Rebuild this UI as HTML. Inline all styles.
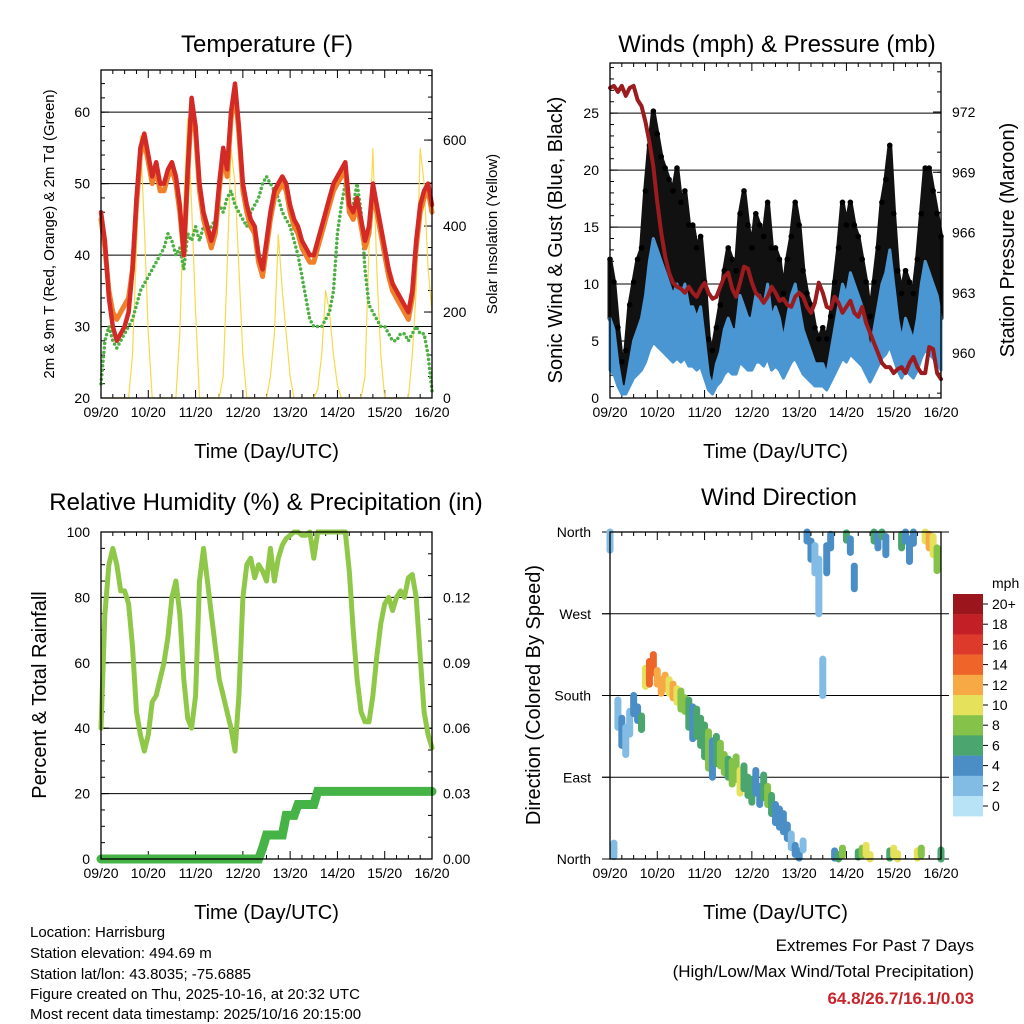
<!DOCTYPE html>
<html><head><meta charset="utf-8"><style>
html,body{margin:0;padding:0;background:#fff;}
svg{display:block;font-family:"Liberation Sans",sans-serif;}
</style></head><body>
<svg id="c" width="1024" height="1024" viewBox="0 0 1024 1024" xmlns="http://www.w3.org/2000/svg"></svg>
<script>
// ---- data (2-hour steps, hour 0 = 09/20 UTC) ----
const dayLabels = ["09/20","10/20","11/20","12/20","13/20","14/20","15/20","16/20"];
const tempRed = [46,42,34,30,28,29,30,32,38,48,55,57,54,51,53,50,50,52,53,51,47,40,52,62,58,50,46,44,42,44,50,55,52,60,64,58,50,47,45,44,40,38,42,46,49,50,51,50,47,45,44,42,41,40,40,42,44,46,48,50,51,52,53,47,46,48,45,42,44,50,47,44,41,38,36,35,34,33,32,35,42,47,49,50,47];
const tempOrange = [45,41,35,32,31,32,33,34,38,47,54,56,53,50,52,49,49,51,52,50,46,40,51,61,57,49,45,43,41,43,49,54,51,59,63,57,49,46,44,43,39,37,41,45,48,49,50,49,46,44,43,41,40,39,39,41,43,45,47,49,50,51,52,46,45,47,44,41,43,49,46,43,40,37,35,34,33,32,31,34,41,46,48,49,46];
const dewGreen = [22,28,30,28,27,28,29,30,31,33,35,36,37,38,39,40,41,43,42,40,41,38,43,42,44,42,44,43,44,45,47,46,48,49,47,46,45,44,46,47,48,50,51,50,49,48,46,45,44,42,40,37,34,31,30,30,30,31,32,35,43,47,50,46,47,50,46,38,33,32,31,30,30,29,28,28,29,29,28,29,30,29,29,26,21];
const solar = [0,0,0,0,0,0,0,0,100,350,610,400,150,0,0,0,0,0,0,0,150,450,650,450,200,0,0,0,0,0,0,50,300,580,500,300,100,0,0,0,0,0,0,50,150,380,250,150,50,0,0,0,0,0,0,20,100,250,200,100,30,0,0,0,0,0,0,50,350,580,300,100,0,0,0,0,0,0,0,100,250,580,500,300,200];
const pressure = [973.2,973.3,973.0,973.3,972.8,973.2,973.3,972.6,972.3,971.5,970.5,969.3,967.5,966.0,964.8,964.0,963.5,963.3,963.2,963.0,963.3,963.0,962.8,963.2,963.5,963.0,962.7,962.8,963.3,963.8,964.0,963.2,962.8,963.5,964.3,964.2,963.5,963.0,962.8,962.5,962.8,963.3,963.0,962.6,962.7,962.4,962.3,962.8,963.0,962.8,962.3,962.0,962.5,963.5,963.0,962.3,962.2,962.8,962.5,962.0,962.3,962.6,962.0,961.8,962.3,961.5,961.0,960.5,960.0,959.5,959.3,959.3,959.0,959.2,959.3,959.0,959.5,959.8,959.3,959.0,959.0,960.3,960.2,959.0,958.7];
const windHi = [7,6,3,1,1,3,5,6,7,9,12,14,13,12,11,10,9,10,9,10,8,8,7,8,5,2,1,3,4,6,7,6,6,9,8,7,7,9,9,8,10,7,8,7,5,7,9,10,8,6,5,4,3,3,3,2,4,6,8,10,9,11,10,9,8,6,4,6,8,10,11,13,10,7,5,7,6,5,7,10,12,11,10,9,7];
const gustHi = [12,10,6,3,4,8,10,12,13,18,22,25,23,21,20,19,18,20,17,18,15,15,13,14,10,5,4,6,8,11,13,12,11,16,18,15,13,16,15,14,17,13,13,12,9,12,14,17,15,11,9,8,6,5,6,5,7,10,13,17,15,17,15,14,12,10,7,10,13,17,19,22,16,11,9,11,10,9,12,16,20,20,18,16,14];
const rh = [40,75,90,95,90,82,82,78,65,45,38,33,38,48,50,55,60,68,80,85,75,55,43,40,50,85,95,85,75,65,55,50,45,40,33,50,80,90,92,86,90,88,85,95,85,92,96,98,99,100,100,99,99,100,92,100,100,100,100,100,100,100,100,88,70,55,45,42,42,50,62,72,78,80,76,80,82,80,86,87,80,62,45,38,34];
const precip = [0,0,0,0,0,0,0,0,0,0,0,0,0,0,0,0,0,0,0,0,0,0,0,0,0,0,0,0,0,0,0,0,0,0,0,0,0,0,0,0,0,0.005,0.011,0.011,0.011,0.011,0.011,0.02,0.02,0.02,0.025,0.025,0.025,0.025,0.025,0.031,0.031,0.031,0.031,0.031,0.031,0.031,0.031,0.031,0.031,0.031,0.031,0.031,0.031,0.031,0.031,0.031,0.031,0.031,0.031,0.031,0.031,0.031,0.031,0.031,0.031,0.031,0.031,0.031,0.031];
const windDir = [350,10,160,140,130,150,170,160,150,200,205,215,200,190,195,190,185,180,175,170,160,150,150,140,130,120,110,120,115,105,100,95,100,85,90,80,75,85,70,80,70,60,50,45,40,30,20,10,5,15,355,340,330,300,200,330,350,5,2,8,355,345,310,5,8,10,2,355,350,360,345,5,8,3,350,355,340,355,5,8,355,350,345,330,5];
const dirSpread = [20,15,30,30,30,25,20,15,15,20,25,20,15,15,15,15,15,15,20,15,30,35,30,30,35,40,40,30,25,20,20,25,25,25,25,20,25,25,20,25,20,20,20,20,20,15,15,10,8,10,10,20,30,60,40,30,15,8,6,8,8,15,25,6,8,10,6,10,15,10,20,8,8,6,15,10,25,15,8,8,10,15,20,25,10];
const windSpd = [2,1,2,3,1,2,3,4,5,10,13,14,12,12,11,10,11,9,8,7,5,4,6,5,6,7,4,6,7,8,6,7,8,9,6,5,6,4,3,6,8,6,4,3,4,3,2,4,3,2,3,4,2,1,2,3,4,4,6,8,5,4,3,6,8,9,10,6,4,5,3,5,10,9,5,4,3,4,10,8,9,11,10,8,6];
const legendLabels = ["20+","18","16","14","12","10","8","6","4","2","0"];
const legendColors = ["#9a161c","#c21f27","#de3a2c","#ef6429","#f6a945","#e6e15a","#84c24a","#4aa56e","#4b8ec6","#82bbe3","#b8e3f6"];

const NS="http://www.w3.org/2000/svg";
const svg=document.getElementById('c');
function el(tag,attrs,parent){const e=document.createElementNS(NS,tag);for(const k in attrs)e.setAttribute(k,attrs[k]);(parent||svg).appendChild(e);return e;}
function txt(s,x,y,size,anchor,parent,extra){const t=el('text',Object.assign({x:x,y:y,'font-size':size,'text-anchor':anchor||'middle',fill:'#000'},extra||{}),parent);t.textContent=s;return t;}
function lin(d0,d1,p0,p1){return v=>p0+(v-d0)*(p1-p0)/(d1-d0);}

function panel(name,x0,x1,y0,y1){
  const g=el('g',{});
  
  
  const xs=lin(0,168,x0,x1);
  const xa=el('g',{},g);
  
  
  for(let h=0;h<=168;h+=6){
    const major=h%24===0;
    const len=major?8:4;
    el('line',{x1:xs(h),x2:xs(h),y1:y1,y2:y1-len,stroke:'#000','stroke-width':1},xa);
    el('line',{x1:xs(h),x2:xs(h),y1:y0,y2:y0+len,stroke:'#000','stroke-width':1},xa);
  }
  dayLabels.forEach((l,i)=>{const t=txt(l,xs(i*24),y1+19,14,'middle',xa);});
  const xt=txt('Time (Day/UTC)',(x0+x1)/2,y1+60,20,'middle',g);
  
  
  return {g,xs};
}
function frame(g,x0,x1,y0,y1){el('rect',{x:x0,y:y0,width:x1-x0,height:y1-y0,fill:'none',stroke:'#000','stroke-width':1.3},g);}
function yticks(g,vals,labels,ys,x,side,grid,x0,x1,minorStep,lo,hi){
  vals.forEach((v,i)=>{
    const y=ys(v);
    if(grid) el('line',{x1:x0,x2:x1,y1:y,y2:y,stroke:'#000','stroke-width':1},g);
    if(side==='left'){el('line',{x1:x0,x2:x0+8,y1:y,y2:y,stroke:'#000'},g);const t=txt(labels[i],x0-11,y+5,14,'end',g);}
    else{el('line',{x1:x1-8,x2:x1,y1:y,y2:y,stroke:'#000'},g);const t=txt(labels[i],x1+11,y+5,14,'start',g);}
  });
  if(minorStep){for(let v=lo;v<=hi+1e-9;v+=minorStep){const y=ys(v);if(side==='left')el('line',{x1:x0,x2:x0+4,y1:y,y2:y,stroke:'#000'},g);else el('line',{x1:x1-4,x2:x1,y1:y,y2:y,stroke:'#000'},g);}}
}
function rotLabel(g,s,x,y,size,name){const t=txt(s,x,y,size,'middle',g,{transform:`rotate(-90 ${x} ${y})`});}
function poly(g,arr,xs,ys,color,w,name){const pts=arr.map((v,i)=>xs(i*2).toFixed(1)+','+ys(v).toFixed(1)).join(' ');const p=el('polyline',{points:pts,fill:'none',stroke:color,'stroke-width':w,'stroke-linejoin':'round','stroke-linecap':'round'},g);return p;}
function title(s,x,y,name){const t=txt(s,x,y,24,'middle');}

// ---- Panel 1: Temperature ----
(function(){
  const x0=101,x1=432,y0=70,y1=398;
  const {g,xs}=panel('temperature-panel',x0,x1,y0,y1);
  const ys=lin(20,65.9,y1,y0), ss=lin(0,763,y1,y0);
  title('Temperature (F)',267,52,'temperature-title');
  yticks(g,[20,30,40,50,60],['20','30','40','50','60'],ys,0,'left',true,x0,x1,2,20,64);
  yticks(g,[0,200,400,600],['0','200','400','600'],ss,0,'right',false,x0,x1,50,0,750);
  poly(g,solar,xs,ss,'#f7d94c',1.2,'solar-insolation-line');
  const dg=poly(g,dewGreen,xs,ys,'#4cb043',3.5,'dewpoint-line');
  dg.setAttribute('stroke-dasharray','0 4.5');
  poly(g,tempOrange,xs,ys,'#f07f2a',5,'temp-9m-line');
  poly(g,tempRed,xs,ys,'#d42a26',4.5,'temp-2m-line');
  frame(g,x0,x1,y0,y1);
  rotLabel(g,'2m & 9m T (Red, Orange) & 2m Td (Green)',54,234,15,'y-axis-title');
  rotLabel(g,'Solar Insolation (Yellow)',497,234,15,'y2-axis-title');
})();

// ---- Panel 2: Winds ----
(function(){
  const x0=610,x1=941,y0=63,y1=398;
  const {g,xs}=panel('winds-panel',x0,x1,y0,y1);
  const ys=lin(0,29.4,y1,y0), ps=lin(960,972,353,112);
  title('Winds (mph) & Pressure (mb)',777,52,'winds-title');
  yticks(g,[0,5,10,15,20,25],['0','5','10','15','20','25'],ys,0,'left',true,x0,x1,1,0,29);
  yticks(g,[960,963,966,969,972],['960','963','966','969','972'],ps,0,'right',false,x0,x1,1,958,974);
  const gb=el('g',{},g);
  const gt=gustHi.map((v,i)=>xs(i*2).toFixed(1)+','+ys(v).toFixed(1));
  const gbt=windHi.map((v,i)=>xs(i*2).toFixed(1)+','+ys(v).toFixed(1)).reverse();
  const gpoly=el('polygon',{points:gt.concat(gbt).join(' '),fill:'#111',stroke:'#111','stroke-width':5,'stroke-linejoin':'round'},gb);
  
  
  gustHi.forEach((v,i)=>{
    const c=el('circle',{cx:xs(i*2),cy:ys(v)-2,r:2.8,fill:'#000'},gb);
    
    
  });
  const top=windHi.map((v,i)=>xs(i*2).toFixed(1)+','+ys(v).toFixed(1));
  const bot=windHi.map((v,i)=>xs(i*2).toFixed(1)+','+ys(v*0.35).toFixed(1)).reverse();
  const wp=el('polygon',{points:top.concat(bot).join(' '),fill:'#4a96d2',stroke:'#4a96d2','stroke-width':3,'stroke-linejoin':'round'},g);
  
  
  poly(g,pressure,xs,ps,'#9b1b1e',4,'pressure-line');
  frame(g,x0,x1,y0,y1);
  rotLabel(g,'Sonic Wind & Gust (Blue, Black)',562,240,20,'y-axis-title');
  rotLabel(g,'Station Pressure (Maroon)',1014,240,20,'y2-axis-title');
})();

// ---- Panel 3: RH & precip ----
(function(){
  const x0=101,x1=432,y0=532,y1=859;
  const {g,xs}=panel('humidity-panel',x0,x1,y0,y1);
  const ys=lin(0,100,y1,y0), rs=lin(0,0.15,y1,y0);
  title('Relative Humidity (%) & Precipitation (in)',266,510,'humidity-title');
  yticks(g,[0,20,40,60,80,100],['0','20','40','60','80','100'],ys,0,'left',true,x0,x1,5,0,100);
  yticks(g,[0,0.03,0.06,0.09,0.12],['0.00','0.03','0.06','0.09','0.12'],rs,0,'right',false,x0,x1,0.01,0,0.15);
  poly(g,precip,xs,rs,'#46b347',9,'precipitation-line').setAttribute('stroke-linejoin','miter');
  poly(g,rh,xs,ys,'#8fc849',5,'relative-humidity-line');
  frame(g,x0,x1,y0,y1);
  rotLabel(g,'Percent & Total Rainfall',46,695,20,'y-axis-title');
})();

// ---- Panel 4: Wind direction ----
(function(){
  const x0=610,x1=941,y0=532,y1=859;
  const {g,xs}=panel('wind-direction-panel',x0,x1,y0,y1);
  const ys=lin(0,360,y1,y0);
  title('Wind Direction',779,505,'wind-direction-title');
  yticks(g,[0,90,180,270,360],['North','East','South','West','North'],ys,0,'left',true,x0-8,x1+8,0,0,0);
  const pg=el('g',{},g);
  windDir.forEach((d,i)=>{
    const s=windSpd[i];
    const ci=Math.max(0,Math.min(10,10-Math.round(s/2)));
    const lo=Math.max(0,d-dirSpread[i]/2), hi=Math.min(360,d+dirSpread[i]/2);
    const c=el('line',{x1:xs(i*2),x2:xs(i*2),y1:ys(lo),y2:ys(hi),stroke:legendColors[ci],'stroke-width':7,'stroke-linecap':'round'},pg);
    
    
  });
  el('rect',{x:x0,y:y0,width:x1-x0,height:y1-y0,fill:'none',stroke:'#000','stroke-width':1.3},g);
  rotLabel(g,'Direction (Colored By Speed)',540,695,20,'y-axis-title');
  const lg=el('g',{},g);
  const t=txt('mph',992,588,14,'start',lg);
  legendColors.forEach((c,i)=>{
    const r=el('rect',{x:953,y:594+i*20.2,width:30,height:20.4,fill:c},lg);
    
    
    el('line',{x1:983,x2:988,y1:604+i*20.2,y2:604+i*20.2,stroke:'#000'},lg);
    const l=txt(legendLabels[i],992,609+i*20.2,14,'start',lg);
    
    
  });
})();

// ---- footer ----
const info=["Location: Harrisburg","Station elevation: 494.69 m","Station lat/lon: 43.8035; -75.6885","Figure created on Thu, 2025-10-16, at 20:32 UTC","Most recent data timestamp: 2025/10/16 20:15:00"];
const iy=[937,958,979,999,1019];
info.forEach((s,i)=>{const t=txt(s,30,iy[i],15,'start');});
let t1=txt('Extremes For Past 7 Days',974,951,17,'end');
let t2=txt('(High/Low/Max Wind/Total Precipitation)',974,977,17,'end');
let t3=txt('64.8/26.7/16.1/0.03',974,1004,17,'end',null,{fill:'#c9252b','font-weight':'bold'});
</script>
</body></html>
